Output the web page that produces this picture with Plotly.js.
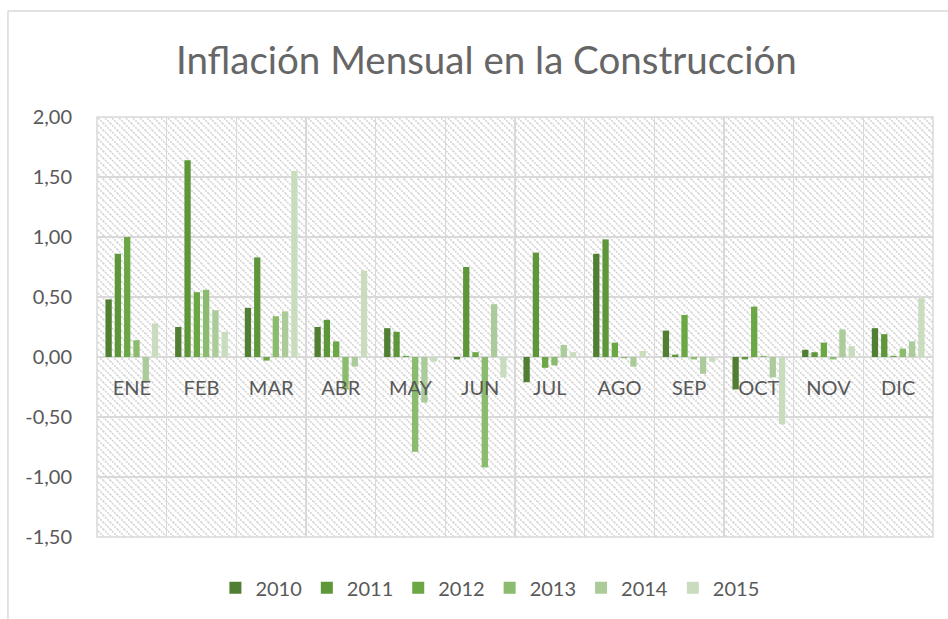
<!DOCTYPE html>
<html>
<head>
<meta charset="utf-8">
<script src="https://cdn.plot.ly/plotly-3.0.1.min.js"></script>
<style>html,body{margin:0;padding:0;background:#fff;}#chart{width:948px;height:619px;}</style>
</head>
<body>
<div id="chart"></div>
<script>
const months = ["ENE","FEB","MAR","ABR","MAY","JUN","JUL","AGO","SEP","OCT","NOV","DIC"];
const years = ["2010","2011","2012","2013","2014","2015"];
const v2010 = [0.48, 0.25, 0.41, 0.25, 0.24, -0.02, -0.21, 0.86, 0.22, -0.27, 0.06, 0.24];
const v2011 = [0.86, 1.64, 0.83, 0.31, 0.21, 0.75, 0.87, 0.98, 0.02, -0.02, 0.04, 0.19];
const v2012 = [1.00, 0.54, -0.03, 0.13, 0.01, 0.04, -0.09, 0.12, 0.35, 0.42, 0.12, 0.01];
const v2013 = [0.14, 0.56, 0.34, -0.27, -0.79, -0.92, -0.07, -0.01, -0.02, 0.01, -0.02, 0.07];
const v2014 = [-0.20, 0.39, 0.38, -0.08, -0.38, 0.44, 0.10, -0.08, -0.14, -0.17, 0.23, 0.13];
const v2015 = [0.28, 0.21, 1.55, 0.72, -0.04, -0.17, 0.04, 0.05, -0.04, -0.56, 0.09, 0.49];
const yTickVals = [-1.5, -1.0, -0.5, 0, 0.5, 1.0, 1.5, 2.0];
const yTickText = ["-1,50", "-1,00", "-0,50", "0,00", "0,50", "1,00", "1,50", "2,00"];
const seriesValues = [v2010, v2011, v2012, v2013, v2014, v2015];
const colors = ["#507E32", "#5E963A", "#6BA744", "#8BBB6E", "#ABCB9A", "#C9DDBE"];

const traces = years.map((y, i) => ({
  type: 'bar', name: y, x: months, y: seriesValues[i],
  marker: {color: colors[i], line: {width: 0}}
}));

const svg = '<svg xmlns="http://www.w3.org/2000/svg" width="836" height="420">' +
  '<defs><pattern id="p" width="7" height="7" patternUnits="userSpaceOnUse">' +
  '<path d="M-1,-1 L8,8 M-1,6 L1,8 M6,-1 L8,1" stroke="#d4d4d4" stroke-width="1.6" stroke-dasharray="2,1"/>' +
  '</pattern></defs><rect width="836" height="420" fill="url(#p)"/></svg>';

const font = "Lato, 'Open Sans', sans-serif";
const layout = {
  width: 948, height: 619,
  margin: {l: 97, r: 15, t: 117, b: 82},
  paper_bgcolor: '#ffffff', plot_bgcolor: 'rgba(0,0,0,0)',
  separators: ',.',
  title: {text: 'Inflación Mensual en la Construcción', font: {family: font, size: 38.5, color: '#666666'},
          xref: 'container', x: 0.513, xanchor: 'center', yref: 'container', y: 0.903, yanchor: 'middle'},
  barmode: 'group', bargap: 0.2, bargroupgap: 0.32,
  xaxis: {
    type: 'category', tickson: 'boundaries', showgrid: true, gridcolor: '#d9d9d9', gridwidth: 1.5,
    anchor: 'free', position: 1.5 / 3.5, showline: false, ticks: '',
    ticklabelstandoff: 17,
    tickfont: {family: font, size: 20, color: '#595959'}
  },
  yaxis: {
    range: [-1.5, 2.0], tickvals: yTickVals, ticktext: yTickText, showgrid: true, gridcolor: '#d9d9d9', gridwidth: 1.5,
    zeroline: true, zerolinecolor: '#d9d9d9', zerolinewidth: 1.5, showline: false, ticks: '',
    ticklabelstandoff: 24,
    tickfont: {family: font, size: 20, color: '#595959'}
  },
  legend: {orientation: 'h', x: 0.47, xanchor: 'center', y: -0.121, yanchor: 'middle',
           font: {family: font, size: 20, color: '#595959'}, itemwidth: 30, traceorder: 'normal'},
  images: [{source: 'data:image/svg+xml;charset=utf-8,' + encodeURIComponent(svg),
            xref: 'paper', yref: 'paper', x: 0, y: 1, sizex: 1, sizey: 1,
            sizing: 'stretch', xanchor: 'left', yanchor: 'top', layer: 'below'}],
  shapes: [
    {type: 'rect', xref: 'paper', yref: 'paper', x0: 0, x1: 1, y0: 0, y1: 1,
     line: {color: '#d9d9d9', width: 1.5}, layer: 'below'},
    {type: 'line', xref: 'paper', yref: 'paper', x0: -0.1065, x1: 1.02, y0: 1.2524, y1: 1.2524,
     line: {color: '#d9d9d9', width: 1.5}},
    {type: 'line', xref: 'paper', yref: 'paper', x0: -0.1065, x1: -0.1065, y0: 1.2524, y1: -0.2,
     line: {color: '#d9d9d9', width: 1.5}}
  ],
  showlegend: true
};

Plotly.newPlot('chart', traces, layout, {displayModeBar: false, staticPlot: true});
</script>
</body>
</html>
